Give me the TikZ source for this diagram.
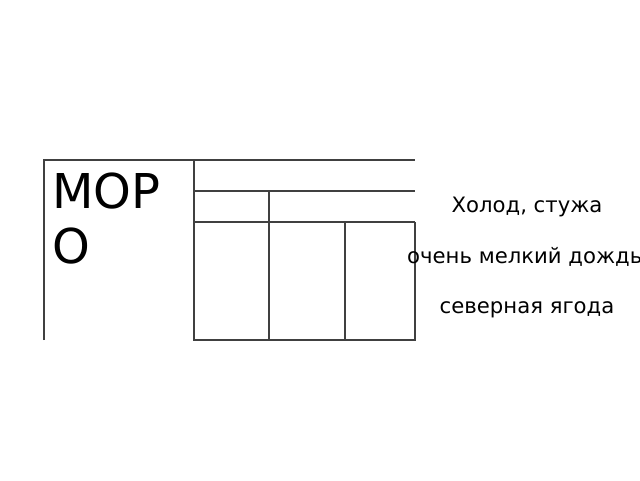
\documentclass[tikz,border=0pt]{standalone}
\usepackage{fontspec}
\setmainfont{DejaVu Sans}
\begin{document}
\begin{tikzpicture}[x=1pt,y=-1pt,
  rule/.style={draw=black!75,line width=1.2pt},
  big/.style={font=\fontsize{48}{55}\selectfont,inner sep=0pt,anchor=base west},
  word/.style={font=\fontsize{21.2}{24}\selectfont,inner sep=0pt,anchor=base}]
\useasboundingbox (0,0) rectangle (640,480);
% frame lines
\coordinate (tl) at (44,160);
\coordinate (bl) at (44,340);
\coordinate (tr) at (415,160);
\draw[rule] (bl) -- (tl) -- (tr);
\draw[rule] (194,160) -- (194,340) -- (415,340) -- (415,222);
\draw[rule] (194,191) -- (415,191);
\draw[rule] (194,222) -- (415,222);
\draw[rule] (269,191) -- (269,340);
\draw[rule] (345,222) -- (345,340);
% text
\node[big] (m1) at (52,208) {МОР};
\node[big] (m2) at (52,263) {О};
\node[word] (w1) at (527,212) {Холод, стужа};
\node[word,anchor=base west] (w2) at (407,263) {очень мелкий дождь};
\node[word] (w3) at (527,313) {северная ягода};
\end{tikzpicture}
\end{document}
